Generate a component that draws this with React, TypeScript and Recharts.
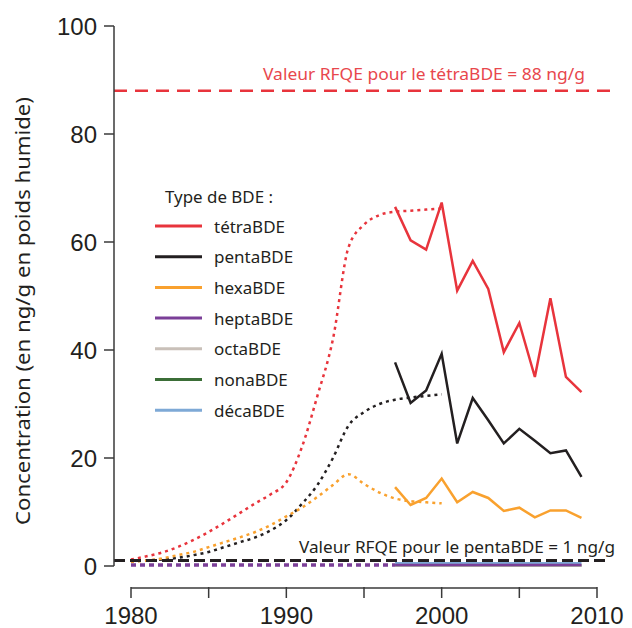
import React from 'react';
import { LineChart, Line, XAxis, YAxis, ReferenceLine, Legend } from 'recharts';

// ---------- data ----------
const modelYears = [1980, 1981, 1982, 1983, 1984, 1985, 1986, 1987, 1988, 1989, 1990, 1991, 1992, 1993, 1994, 1995, 1996, 1997, 1998, 1999, 2000];
const tetraModel = [1.2, 1.8, 2.5, 3.5, 4.8, 6.3, 8.0, 9.8, 11.6, 13.3, 15.5, 22, 31.5, 42, 59, 63.2, 65, 65.6, 65.8, 66, 66.2];
const pentaModel = [0.9, 1.0, 1.2, 1.5, 2.0, 2.6, 3.5, 4.4, 5.3, 6.6, 8.5, 11.5, 15, 20, 26, 28.5, 30, 30.8, 31.2, 31.5, 31.8];
const hexaModel = [0.8, 1.0, 1.4, 2.0, 2.6, 3.5, 4.4, 5.3, 6.3, 7.6, 9.2, 10.8, 12.8, 15, 17, 15.2, 13.6, 12.5, 12, 11.8, 11.6];
const heptaModelYears = [1980, 1981, 1982, 1983, 1984, 1985, 1986, 1987, 1988, 1989, 1990, 1991, 1992, 1993, 1994, 1995, 1996, 1997];
const heptaModel = [0.2, 0.2, 0.2, 0.2, 0.2, 0.2, 0.2, 0.2, 0.2, 0.2, 0.2, 0.2, 0.2, 0.2, 0.2, 0.2, 0.2, 0.2];

const measuredYears = [1997, 1998, 1999, 2000, 2001, 2002, 2003, 2004, 2005, 2006, 2007, 2008, 2009];
const tetra = [66.5, 60.3, 58.6, 67.3, 51, 56.5, 51.3, 39.6, 45, 35, 49.6, 35, 32.2];
const penta = [37.7, 30.2, 32.5, 39.3, 22.7, 31.1, 27, 22.7, 25.4, 23.2, 20.9, 21.4, 16.5];
const hexa = [14.6, 11.3, 12.6, 16.2, 11.8, 13.7, 12.6, 10.2, 10.8, 9.0, 10.3, 10.3, 8.9];
const hepta = [0.2, 0.2, 0.2, 0.2, 0.2, 0.2, 0.2, 0.2, 0.2, 0.2, 0.2, 0.2, 0.2];
const octa = [0.1, 0.1, 0.1, 0.1, 0.1, 0.1, 0.1, 0.1, 0.1, 0.1, 0.1, 0.1, 0.1];
const nona = [0.1, 0.1, 0.1, 0.1, 0.1, 0.1, 0.1, 0.1, 0.1, 0.1, 0.1, 0.1, 0.1];
const deca = [0.5, 0.5, 0.5, 0.5, 0.5, 0.5, 0.5, 0.5, 0.5, 0.5, 0.5, 0.5, 0.5];

const xTicks = [1980, 1985, 1990, 1995, 2000, 2005, 2010];
const xTickLabels = [1980, 1990, 2000, 2010];
const yTicks = [0, 20, 40, 60, 80, 100];

const tetraLimit = 88;
const pentaLimit = 1;
const tetraLimitLabel = 'Valeur RFQE pour le tétraBDE = 88 ng/g';
const pentaLimitLabel = 'Valeur RFQE pour le pentaBDE = 1 ng/g';
const yTitle = 'Concentration (en ng/g en poids humide)';
const legendTitle = 'Type de BDE :';

const seriesKeys = ['tetra', 'penta', 'hexa', 'hepta', 'octa', 'nona', 'deca'];
const seriesNames = ['tétraBDE', 'pentaBDE', 'hexaBDE', 'heptaBDE', 'octaBDE', 'nonaBDE', 'décaBDE'];
const seriesColors = ['#e8343c', '#231f20', '#f9a12e', '#7b3f98', '#c9c0b9', '#3b6e37', '#7ea9d6'];
const measuredSeries = [tetra, penta, hexa, hepta, octa, nona, deca];

// ---------- build table ----------
const allYears: number[] = [];
modelYears.forEach((y) => allYears.push(y));
measuredYears.forEach((y) => { if (!allYears.includes(y)) allYears.push(y); });

const data = allYears.map((year) => {
  const row: Record<string, number> = { year };
  const mi = modelYears.indexOf(year);
  if (mi >= 0) {
    row.tetraModel = tetraModel[mi];
    row.pentaModel = pentaModel[mi];
    row.hexaModel = hexaModel[mi];
  }
  const hi = heptaModelYears.indexOf(year);
  if (hi >= 0) row.heptaModel = heptaModel[hi];
  const si = measuredYears.indexOf(year);
  if (si >= 0) {
    seriesKeys.forEach((k, i) => { row[k] = measuredSeries[i][si]; });
  }
  return row;
});

// ---------- styles ----------
const AXIS = '#3a3a3a';
const TEXT = '#231f20';
const RED_TEXT = '#e8474d';
const SANS = '"Liberation Sans", Arial, sans-serif';
const HUMAN = '"Noto Sans", "Open Sans", sans-serif';
const AXIS_GAP = -4.07; // x axis line drawn slightly below zero (range-frame style)

const XTick = (props: any) => {
  const { x, y, payload } = props;
  const show = xTickLabels.includes(payload.value);
  return (
    <g>
      <line x1={x} x2={x} y1={y + 21} y2={y + 32} stroke={AXIS} strokeWidth={1.5} />
      {show && (
        <text x={x} y={y + 49} textAnchor="middle" dominantBaseline="central" fontSize={24} fontFamily={SANS} fill={TEXT}>
          {payload.value}
        </text>
      )}
    </g>
  );
};

const renderLegend = () => (
  <svg width={200} height={260} style={{ display: 'block', overflow: 'visible' }}>
    <text x={17} y={19} dominantBaseline="central" fontSize={16} fontFamily={HUMAN} fill={TEXT} textLength={108} lengthAdjust="spacingAndGlyphs">
      {legendTitle}
    </text>
    {seriesNames.map((name, i) => {
      const cy = 48 + i * 30.7;
      return (
        <g key={name}>
          <line x1={7} x2={54} y1={cy} y2={cy} stroke={seriesColors[i]} strokeWidth={3} />
          <text x={66} y={cy} dominantBaseline="central" fontSize={17} fontFamily={HUMAN} fill={TEXT}>
            {name}
          </text>
        </g>
      );
    })}
  </svg>
);

export default function App() {
  return (
    <LineChart
      width={624}
      height={620}
      data={data}
      margin={{ top: 18, right: 22, bottom: 0, left: 0 }}
    >
      <XAxis
        dataKey="year"
        type="number"
        domain={[1980, 2010]}
        ticks={xTicks}
        padding={{ left: 17, right: 13 }}
        axisLine={false}
        tickLine={false}
        tickSize={0}
        tickMargin={0}
        height={62}
        tick={<XTick />}
        interval={0}
      />
      <YAxis
        type="number"
        domain={[0, 100]}
        ticks={yTicks}
        width={106}
        axisLine={{ stroke: AXIS, strokeWidth: 1.5 }}
        tickLine={{ stroke: AXIS, strokeWidth: 1.5 }}
        tickSize={10}
        tickMargin={7}
        tick={{ fontSize: 24, fontFamily: SANS, fill: TEXT }}
        interval={0}
        label={{
          content: (p: any) => {
            const vb = p.viewBox || {};
            const cx = vb.x + 14;
            const cy = vb.y + vb.height / 2 + 15;
            return (
              <text
                x={cx}
                y={cy}
                transform={`rotate(-90 ${cx} ${cy})`}
                textAnchor="middle"
                dominantBaseline="central"
                fontSize={20}
                fontFamily={HUMAN}
                fill={TEXT}
                textLength={428}
                lengthAdjust="spacingAndGlyphs"
              >
                {yTitle}
              </text>
            );
          },
        }}
      />
      <Legend
        layout="vertical"
        align="center"
        verticalAlign="middle"
        content={renderLegend}
        wrapperStyle={{ left: 140, top: 170, width: 200, height: 260 }}
      />
      <ReferenceLine
        ifOverflow="visible"
        segment={[{ x: 1980, y: AXIS_GAP }, { x: 2010, y: AXIS_GAP }]}
        stroke={AXIS}
        strokeWidth={1.5}
      />
      <ReferenceLine
        y={tetraLimit}
        stroke="#e8343c"
        strokeWidth={2.5}
        strokeDasharray="13 8"
        label={{
          content: (p: any) => {
            const vb = p.viewBox || {};
            return (
              <text
                x={vb.x + vb.width - 25}
                y={vb.y - 17}
                textAnchor="end"
                dominantBaseline="central"
                fontSize={16}
                fontFamily={HUMAN}
                fill={RED_TEXT}
                textLength={322}
                lengthAdjust="spacingAndGlyphs"
              >
                {tetraLimitLabel}
              </text>
            );
          },
        }}
      />
      {/* modelled (dotted) */}
      <Line dataKey="heptaModel" type="linear" stroke="#7b3f98" strokeWidth={3.5} strokeDasharray="5 4" dot={false} legendType="none" isAnimationActive={false} />
      <Line dataKey="tetraModel" type="monotone" stroke="#e8343c" strokeWidth={2.5} strokeDasharray="3 4" dot={false} legendType="none" isAnimationActive={false} />
      <Line dataKey="pentaModel" type="monotone" stroke="#231f20" strokeWidth={2.5} strokeDasharray="3 4" dot={false} legendType="none" isAnimationActive={false} />
      <Line dataKey="hexaModel" type="monotone" stroke="#f9a12e" strokeWidth={2.5} strokeDasharray="3 4" dot={false} legendType="none" isAnimationActive={false} />
      {/* measured (solid) */}
      {seriesKeys.slice().reverse().map((k) => {
        const i = seriesKeys.indexOf(k);
        return (
          <Line
            key={k}
            dataKey={k}
            name={seriesNames[i]}
            type="linear"
            stroke={seriesColors[i]}
            strokeWidth={2.5}
            dot={false}
            isAnimationActive={false}
          />
        );
      })}
      <ReferenceLine
        y={pentaLimit}
        stroke="#231f20"
        strokeWidth={3}
        strokeDasharray="11 5"
        label={{
          content: (p: any) => {
            const vb = p.viewBox || {};
            return (
              <text
                x={vb.x + vb.width + 5}
                y={vb.y - 14}
                textAnchor="end"
                dominantBaseline="central"
                fontSize={16}
                fontFamily={HUMAN}
                fill={TEXT}
                textLength={316}
                lengthAdjust="spacingAndGlyphs"
              >
                {pentaLimitLabel}
              </text>
            );
          },
        }}
      />
    </LineChart>
  );
}
